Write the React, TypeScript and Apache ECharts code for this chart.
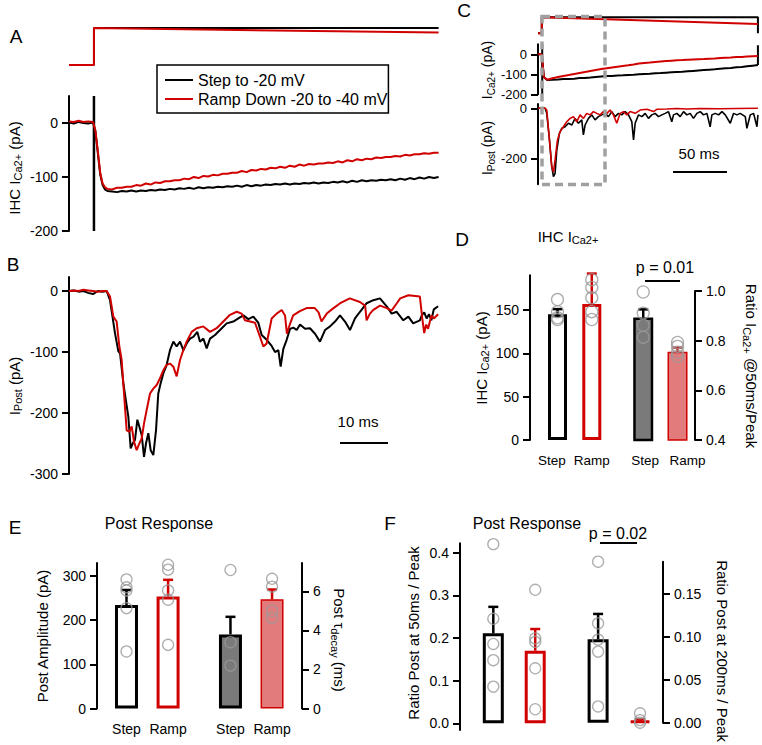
import React, { useEffect, useRef } from "react";
import * as echarts from "echarts";

const FONT = '"Liberation Sans", Arial, Helvetica, sans-serif';
const BLACK = "#000000";
const RED = "#d10000";
const GRAY_BAR = "#7a7a7a";
const PINK_BAR = "#e27c7c";
const CIRCLE = "#9a9a9a";
const BOX = "#a0a0a0";

// ---------- Panel A : IHC Ca current (pA) vs time (ms) ----------
const tA = [-5, -4, -3, -2, -1, 0, 0.5, 1, 1.5, 2, 2.5, 3,
  4, 5, 6, 7, 8, 9, 10, 11, 12, 13, 14, 15, 16, 17, 18, 19, 20, 21, 22, 23,
  24, 25, 26, 27, 28, 29, 30, 31, 32, 33, 34, 35, 36, 37, 38, 39, 40, 41, 42, 43,
  44, 45, 46, 47, 48, 49, 50, 51, 52, 53, 54, 55, 56, 57, 58, 59, 60, 61, 62, 63,
  64, 65, 66, 67, 68, 69, 70, 71, 72];
const stepCurrentA = [1, -1, 2, 0, -1, 1, -15, -55, -95, -115, -123, -126,
  -127, -128, -126, -127, -125, -127, -125, -126, -124, -125,
  -123, -124, -122, -123, -121, -122, -120, -122, -119, -121,
  -119, -120, -118, -119, -117, -118, -116, -118, -115, -117,
  -115, -116, -114, -115, -113, -114, -112, -114, -112, -113,
  -111, -112, -110, -112, -110, -111, -109, -110, -108, -110,
  -107, -109, -106, -108, -106, -107, -105, -106, -104, -106,
  -103, -105, -102, -104, -101, -103, -100, -102, -100];
const rampCurrentA = [3, 2, 4, 2, 3, 2, -14, -52, -92, -112, -119, -122,
  -123, -120, -120, -118, -118, -115, -116, -112, -114, -110,
  -111, -108, -108, -106, -106, -103, -104, -100, -102, -98,
  -99, -96, -97, -94, -94, -92, -92, -89, -91, -87,
  -88, -85, -86, -83, -84, -81, -83, -79, -81, -77,
  -79, -76, -77, -75, -75, -73, -74, -71, -73, -69,
  -71, -67, -69, -66, -67, -64, -65, -63, -63, -61,
  -62, -59, -60, -58, -58, -56, -57, -55, -55];
const artifactTimeA = [0.2, 0.2];
const artifactA = [50, -200];
// command voltage (mV)
const voltTimeA = [-5, 0.2, 0.2, 72];
const stepVoltA = [-80, -80, -20, -20];
const rampVoltA = [-80, -80, -20, -27.5];

// ---------- Panel B : postsynaptic current (pA) ----------
const tStepB = [-5, -4, -3, -2, -1, 0, 1, 2, 2.85,
  3.54, 4.58, 5.28, 5.63, 6.32, 6.88, 7.36, 7.85, 8.26, 8.75,
  9.24, 9.65, 10.14, 10.63, 11.04, 11.53, 12.01, 12.57, 13.13, 13.6,
  14.1, 14.65, 15.35, 16.04, 16.74, 17.43, 18.13, 18.82, 19.51, 20.21,
  20.9, 21.74, 22.29, 22.99, 23.68, 24.38, 25.42, 26.46, 27.85, 29.24,
  30.28, 31.32, 32.36, 33.4, 34.44, 35.14, 36.18, 37.22, 37.92, 38.61,
  39.1, 39.65, 40.35, 41.04, 41.74, 42.43, 43.13, 44.17, 45.21, 46.25,
  47.29, 48.33, 49.38, 50.42, 51.46, 52.5, 53.54, 54.58, 55.63, 57.01,
  58.4, 59.79, 61.18, 62.22, 63.26, 64.65, 65.7, 66.7, 68.1, 68.5,
  69, 69.5, 70, 70.5, 71, 71.9];
const stepPostB = [0, 1, -1, 0, -3, -5, 0, -1, 0,
  -15, -69, -99, -102, -151, -181, -206, -258, -250, -244,
  -211, -222, -236, -272, -250, -233, -261, -269, -228, -168,
  -151, -135, -121, -97, -83, -91, -83, -97, -86, -78,
  -75, -67, -83, -78, -94, -78, -72, -64, -53, -50,
  -45, -40, -46, -42, -52, -72, -80, -90, -100, -97,
  -124, -95, -80, -62, -60, -64, -55, -62, -61, -70,
  -83, -64, -58, -50, -40, -50, -64, -45, -34, -20,
  -15, -12, -25, -37, -34, -48, -42, -53, -48, -40,
  -35, -45, -38, -48, -30, -25];
const tRampB = [-5, -4, -3, -2, -1, 0, 1, 2, 2.85,
  3.54, 4.24, 4.93, 5.49, 5.97, 6.46, 7.01, 7.57, 8.06, 8.54,
  9.1, 9.65, 10.14, 10.63, 11.18, 11.88, 12.57, 13.27, 13.96, 14.65,
  15.35, 16.04, 16.74, 17.43, 18.13, 18.82, 19.51, 20.56, 21.6, 22.99,
  24.38, 25.76, 27.15, 28.54, 29.93, 30.97, 31.67, 32.71, 33.75, 34.79,
  35.49, 36.18, 37.22, 38.26, 39.31, 40, 40.4, 41, 41.7, 43.1,
  44.5, 46.2, 47, 47.6, 48.7, 50.1, 51.5, 53.5, 55.6, 56.7,
  57, 57.7, 58.4, 59.8, 61.2, 62.2, 63.3, 64, 65.7, 68.1,
  68.6, 69, 69.4, 69.8, 70.5, 71, 71.9];
const rampPostB = [0, 1, 0, 2, 1, 0, -1, 0, 0,
  -9, -42, -50, -91, -113, -168, -228, -231, -222, -247,
  -261, -250, -242, -217, -195, -168, -160, -154, -143, -130,
  -121, -119, -124, -140, -113, -97, -83, -67, -61, -58,
  -67, -61, -50, -39, -34, -37, -48, -50, -52, -75,
  -91, -86, -45, -37, -31, -40, -70, -55, -40, -33,
  -28, -28, -35, -50, -37, -28, -20, -12, -18, -24,
  -48, -37, -31, -24, -28, -32, -20, -12, -7, -9,
  -45, -69, -55, -62, -40, -45, -38];

// ---------- Panel C : whole 200 ms responses ----------
const voltTimeC = [-3.5, 0, 0, 200, 200];
const stepVoltC = [-80, -80, -20, -20, -80];
const rampVoltC = [-80, -80, -20, -45, -45];
const tCaC = [-3.5, 0, 1, 2, 5, 10, 15, 20, 25, 30, 35, 40, 45, 50, 55, 60, 65, 70, 75, 80, 85, 90, 95, 100,
  105, 110, 115, 120, 125, 130, 135, 140, 145, 150, 155, 160, 165, 170, 175, 180, 185, 190, 195, 200];
const stepCaC = [0, 0, -60, -115, -129, -127, -126, -124, -123, -122, -119, -118, -116, -113, -111, -109, -108, -106,
  -105, -103, -102, -100, -98, -97, -95, -94, -92, -90, -88, -87, -85, -83, -81, -79, -77, -75, -72, -70, -68, -65,
  -63, -60, -57, -54];
const rampCaC = [0, 0, -60, -115, -127, -120, -114, -108, -104, -99, -94, -89, -84, -79, -74, -70, -66, -62, -58,
  -55, -51, -46, -43, -41, -38, -36, -34, -32, -30, -29, -27, -26, -25, -24, -22, -21, -19, -17, -16, -14, -13,
  -11, -10, -9];
const tailTimeC = [200, 200];
const tailCaC = [-54, 45];
const artifactTimeC = [0.4, 0.4];
const artifactC = [50, -200];
const tStepPostC = [-3.5, 0, 3.1, 4.6, 7.1, 9.2, 10.8, 12.3, 13.9, 16.3, 18.5, 21.6, 24.7, 27.8, 30.8, 33.9, 37, 38.5,
  40.1, 43.2, 46.3, 49.3, 52.4, 55.5, 58.6, 61.7, 64.8, 67.9, 70.9, 74, 77.1, 80.2, 83.3, 84.9, 86.4, 89.5, 92.6,
  95.7, 98.7, 101.8, 104.9, 108, 111.1, 114.2, 117.2, 120.3, 121.9, 125, 128.1, 131.2, 134.2, 137.3, 140.4, 143.5,
  146.6, 149.7, 152.8, 155.8, 157.4, 160.5, 163.6, 166.7, 169.8, 174.4, 177.5, 180.6, 183.6, 188.3, 189.8, 192.9,
  196, 199.1, 200];
const stepPostC = [0, 0, 0, -20, -125, -230, -270, -257, -165, -99, -79, -73, -59, -66, -40, -59, -46, -105,
  -66, -40, -26, -46, -33, -26, -20, -33, -13, -33, -20, -26, -13, -26, -53, -125, -59, -26, -33,
  -20, -40, -26, -20, -33, -26, -20, -13, -53, -26, -20, -33, -13, -26, -20, -40, -20,
  -13, -26, -20, -73, -26, -20, -26, -13, -26, -59, -20, -26, -20, -33, -79, -26,
  -20, -73, -26];
const tRampPostC = [-3.5, 0, 3.1, 4.6, 7.1, 9.2, 10.8, 12.3, 14.5, 17, 20, 23.1, 26.2, 29.3, 32.4, 35.5, 38.5,
  41.6, 44.7, 47.8, 50.9, 54, 57, 60.2, 63.2, 66.3, 69.4, 72.5, 75.6, 78.7, 81.8, 86.4, 91, 97.2, 103.4, 106.4,
  115.7, 125, 134.2, 146.6, 165.1, 180.6, 200];
const rampPostC = [0, 0, 0, -7, -125, -230, -252, -204, -125, -92, -73, -53, -40, -33, -53, -26, -40,
  -20, -26, -13, -20, -26, -13, -20, -7, -26, -59, -20, -13, -26, -13, -20, -7, -4, -13, -4,
  -3, -1, -3, -1, -2, -1, 0];

// ---------- Bar panels ----------
const barCategories = ["Step", "Ramp", "Step", "Ramp"];
const barSlots = [1, 3, 6, 8];

// D : IHC ICa2+ amplitude (pA) and ratio @50 ms / peak
const dAmpMean = [145, 157];
const dAmpErr = [151, 192];
const dAmpStepPts = [162, 148, 141, 139];
const dAmpRampPts = [185, 176, 164, 148, 139];
const dRatioMean = [0.893, 0.755];
const dRatioErr = [0.926, 0.772];
const dRatioStepPts = [0.996, 0.911, 0.862, 0.814];
const dRatioRampPts = [0.793, 0.777, 0.753, 0.737];

// E : post amplitude (pA) and decay tau (ms)
const eAmpMean = [234, 253];
const eAmpErr = [268, 291];
const eAmpStepPts = [292, 274, 267, 227, 129];
const eAmpRampPts = [325, 314, 267, 246, 144];
const eTauMean = [3.8, 5.6];
const eTauErr = [4.7, 6.1];
const eTauStepPts = [7.1, 3.4, 2.2];
const eTauRampPts = [6.65, 6.25, 5.0, 4.65];

// F : post ratios at 50 ms and 200 ms
const fR50Mean = [0.211, 0.17];
const fR50Err = [0.273, 0.221];
const fR50StepPts = [0.42, 0.245, 0.186, 0.148, 0.086];
const fR50RampPts = [0.313, 0.199, 0.191, 0.129, 0.033];
const fR200Mean = [0.0975, 0.0025];
const fR200Err = [0.127, 0.004];
const fR200StepPts = [0.188, 0.116, 0.097, 0.083, 0.019];
const fR200RampPts = [0.011, 0.003, 0.0];

// tick values
const ticksA = [-200, -100, 0];
const ticksB = [-300, -200, -100, 0];
const ticksCCa = [-200, -100, 0];
const ticksCPost = [-200, 0];
const ticksDL = [0, 50, 100, 150];
const ticksDR = [0.4, 0.6, 0.8, 1.0];
const ticksEL = [0, 100, 200, 300];
const ticksER = [0, 2, 4, 6];
const ticksFL = [0, 0.1, 0.2, 0.3, 0.4];
const ticksFR = [0, 0.05, 0.1, 0.15];

const zip = (t: number[], v: number[]) => t.map((x, i) => [x, v[i]]);

function buildOption() {
  const grids: any[] = [];
  const xAxes: any[] = [];
  const yAxes: any[] = [];
  const series: any[] = [];

  const addGrid = (box: number[], xr: number[], yr: number[], yOpt: any = null, xOpt: any = null) => {
    const idx = grids.length;
    grids.push({ left: box[0], top: box[1], width: box[2], height: box[3], containLabel: false, outerBoundsMode: "none", show: false });
    xAxes.push({
      type: "value", gridIndex: idx, min: xr[0], max: xr[1],
      show: !!xOpt,
      axisLine: { show: false, onZero: false },
      axisTick: { show: false },
      splitLine: { show: false },
      axisLabel: xOpt
        ? { show: true, customValues: barSlots, margin: 13, color: "#000", fontSize: xOpt.size || 14, fontFamily: FONT,
            hideOverlap: false,
            formatter: (v: number) => {
              const i = barSlots.indexOf(v);
              return i < 0 ? "" : `{${xOpt.styles[i]}|${barCategories[i]}}`;
            },
            rich: xOpt.rich }
        : { show: false },
    });
    if (yOpt) {
      yAxes.push({
        type: "value", gridIndex: idx, min: yr[0], max: yr[1], position: yOpt.pos || "left",
        show: true,
        axisLine: { show: true, onZero: false, lineStyle: { color: "#000", width: 2 } },
        axisTick: { show: true, length: 7, customValues: yOpt.ticks, lineStyle: { color: "#000", width: 2 } },
        axisLabel: { show: true, customValues: yOpt.ticks, margin: 11, color: "#000", fontSize: yOpt.size || 14, fontFamily: FONT,
          formatter: yOpt.fmt || ((v: number) => String(v)) },
        splitLine: { show: false },
      });
    } else {
      yAxes.push({ type: "value", gridIndex: idx, min: yr[0], max: yr[1], show: false,
        axisLine: { onZero: false }, splitLine: { show: false } });
    }
    return idx;
  };

  const line = (g: number, name: string, data: number[][], color: string, width: number, z = 2) => ({
    type: "line", name, xAxisIndex: g, yAxisIndex: g, data, symbol: "none", showSymbol: false,
    lineStyle: { color, width }, itemStyle: { color }, silent: true, z, animation: false,
  });

  // Panel A
  const gAV = addGrid([69, 24.9, 369.6, 43.2], [-5, 72], [-85, -15]);
  series.push(line(gAV, "vStepA", zip(voltTimeA, stepVoltA), BLACK, 2));
  series.push(line(gAV, "vRampA", zip(voltTimeA, rampVoltA), RED, 2));
  const gAI = addGrid([69, 96, 369.6, 135], [-5, 72], [-200, 50], { ticks: ticksA });
  series.push(line(gAI, "artA", zip(artifactTimeA, artifactA), BLACK, 2.5));
  series.push(line(gAI, "Step to -20 mV", zip(tA, stepCurrentA), BLACK, 2));
  series.push(line(gAI, "Ramp Down -20 to -40 mV", zip(tA, rampCurrentA), RED, 2));

  // Panel B
  const gB = addGrid([69, 277, 369.6, 197], [-5, 72], [-300, 23], { ticks: ticksB });
  series.push(line(gB, "stepB", zip(tStepB, stepPostB), BLACK, 2));
  series.push(line(gB, "rampB", zip(tRampB, rampPostB), RED, 2));

  // Panel C
  const gCV = addGrid([538, 16, 221, 18.7], [-3.5, 201], [-85, -15]);
  series.push(line(gCV, "vStepC", zip(voltTimeC, stepVoltC), BLACK, 2));
  series.push(line(gCV, "vRampC", zip(voltTimeC, rampVoltC), RED, 2));
  const gCCa = addGrid([538, 44.3, 221, 50], [-3.5, 201], [-200, 50], { ticks: ticksCCa, size: 13 });
  series.push(line(gCCa, "artC", zip(artifactTimeC, artifactC), BLACK, 2));
  series.push(line(gCCa, "stepCaC", zip(tCaC, stepCaC), BLACK, 2));
  series.push(line(gCCa, "tailC", zip(tailTimeC, tailCaC), BLACK, 2));
  series.push(line(gCCa, "rampCaC", zip(tCaC, rampCaC), RED, 2));
  const gCP = addGrid([538, 104, 221, 80.2], [-3.5, 201], [-300, 17], { ticks: ticksCPost, size: 13 });
  series.push(line(gCP, "stepPostC", zip(tStepPostC, stepPostC), BLACK, 1.6));
  series.push(line(gCP, "rampPostC", zip(tRampPostC, rampPostC), RED, 1.6));

  // bar helpers
  const outlineBlack = { color: "#ffffff", borderColor: BLACK, borderWidth: 3 };
  const outlineRed = { color: "#ffffff", borderColor: RED, borderWidth: 3 };
  const grayFill = { color: GRAY_BAR, borderColor: BLACK, borderWidth: 2.5 };
  const pinkFill = { color: PINK_BAR, borderColor: RED, borderWidth: 1.5 };
  const redFlat = { color: RED, borderColor: RED, borderWidth: 3 };

  const barGroup = (g: number, slots: number[], means: number[], errs: number[], pts: number[][],
    styles: any[], errColors: string[], barWidth: number, circleSize: number) => {
    series.push({
      type: "bar", xAxisIndex: g, yAxisIndex: g, barWidth, silent: true, z: 2,
      data: means.map((m, i) => ({ value: [slots[i], m], itemStyle: styles[i] })),
    });
    series.push({
      type: "custom", xAxisIndex: g, yAxisIndex: g, silent: true, z: 3,
      data: means.map((m, i) => [slots[i], m, errs[i]]),
      renderItem: (params: any, api: any) => {
        const x = api.value(0), m = api.value(1), e = api.value(2);
        const p0 = api.coord([x, m]);
        const p1 = api.coord([x, e]);
        const c = errColors[params.dataIndex];
        return {
          type: "group",
          children: [
            { type: "line", shape: { x1: p0[0], y1: p0[1], x2: p1[0], y2: p1[1] }, style: { stroke: c, lineWidth: 2.5 } },
            { type: "line", shape: { x1: p1[0] - 5, y1: p1[1], x2: p1[0] + 5, y2: p1[1] }, style: { stroke: c, lineWidth: 2.5 } },
          ],
        };
      },
    });
    const scatterData: number[][] = [];
    pts.forEach((arr, i) => arr.forEach((v) => scatterData.push([slots[i], v])));
    series.push({
      type: "scatter", xAxisIndex: g, yAxisIndex: g, silent: true, z: 4,
      symbol: "circle", symbolSize: circleSize, data: scatterData,
      itemStyle: { color: "rgba(0,0,0,0)", borderColor: CIRCLE, borderWidth: 1.3 },
    });
  };

  const labelRich = (size: number) => ({
    c: { fontSize: size, fontFamily: FONT, color: "#000" },
    l: { fontSize: size, fontFamily: FONT, color: "#000", padding: [0, 11, 0, 0] },
    r: { fontSize: size, fontFamily: FONT, color: "#000", padding: [0, 0, 0, 4] },
    rr: { fontSize: size, fontFamily: FONT, color: "#000", padding: [0, 0, 0, 20] },
  });

  // Panel D
  const dX = [-0.604, 9.02];
  const gDL = addGrid([530, 275.3, 165, 164.7], dX, [0, 190], { ticks: ticksDL },
    { size: 13.5, styles: ["l", "c", "r", "rr"], rich: labelRich(13.5) });
  barGroup(gDL, barSlots.slice(0, 2), dAmpMean, dAmpErr, [dAmpStepPts, dAmpRampPts],
    [outlineBlack, outlineRed], [BLACK, RED], 19, 12);
  const gDR = addGrid([530, 291, 165, 149], dX, [0.4, 1.0],
    { ticks: ticksDR, pos: "right", fmt: (v: number) => v.toFixed(1) });
  barGroup(gDR, barSlots.slice(2), dRatioMean, dRatioErr, [dRatioStepPts, dRatioRampPts],
    [grayFill, pinkFill], [BLACK, RED], 20, 12);

  // Panel E
  const eX = [-0.418, 9.44];
  const gEL = addGrid([97, 563, 205, 145.5], eX, [0, 329], { ticks: ticksEL },
    { size: 14, styles: ["c", "c", "c", "c"], rich: labelRich(14) });
  barGroup(gEL, barSlots.slice(0, 2), eAmpMean, eAmpErr, [eAmpStepPts, eAmpRampPts],
    [outlineBlack, outlineRed], [BLACK, RED], 23, 11);
  const gER = addGrid([97, 563, 205, 145.5], eX, [0, 7.46], { ticks: ticksER, pos: "right" });
  barGroup(gER, barSlots.slice(2), eTauMean, eTauErr, [eTauStepPts, eTauRampPts],
    [{ ...grayFill, borderWidth: 3 }, pinkFill], [BLACK, RED], 23, 11);

  // Panel F
  const fX = [-0.589, 9.096];
  const gFL = addGrid([460, 543.3, 203, 186.7], fX, [-0.0157, 0.422],
    { ticks: ticksFL, fmt: (v: number) => v.toFixed(1) });
  barGroup(gFL, barSlots.slice(0, 2), fR50Mean, fR50Err, [fR50StepPts, fR50RampPts],
    [outlineBlack, outlineRed], [BLACK, RED], 21, 11);
  const gFR = addGrid([460, 561.7, 203, 161], fX, [0, 0.188],
    { ticks: ticksFR, pos: "right", fmt: (v: number) => v.toFixed(2) });
  barGroup(gFR, barSlots.slice(2), fR200Mean, fR200Err, [fR200StepPts, fR200RampPts],
    [outlineBlack, redFlat], [BLACK, RED], 21, 11);

  // texts
  const rich = (size: number) => ({
    b: { fontSize: size, fontFamily: FONT, fill: "#000", lineHeight: size + 4 },
    s: { fontSize: Math.round(size * 0.72), fontFamily: FONT, fill: "#000", lineHeight: Math.round(size * 0.55), verticalAlign: "bottom" },
  });
  const label = (x: number, y: number, text: string, size: number, rot = 0) => ({
    type: "text", x, y, rotation: rot, silent: true, z: 20,
    style: {
      text, rich: rich(size), fill: "#000", font: `${size}px ${FONT}`,
      align: "center", verticalAlign: "middle", textAlign: "center", textVerticalAlign: "middle",
    },
  });
  const seg = (x1: number, y1: number, x2: number, y2: number, w = 2) => ({
    type: "line", silent: true, z: 20, shape: { x1, y1, x2, y2 }, style: { stroke: "#000", lineWidth: w },
  });
  const UP = Math.PI / 2;
  const DOWN = -Math.PI / 2;

  const elements: any[] = [
    label(16, 36, "{b|A}", 19),
    label(13, 264, "{b|B}", 19),
    label(464, 10, "{b|C}", 19),
    label(462, 239, "{b|D}", 19),
    label(15, 527, "{b|E}", 19),
    label(390, 523, "{b|F}", 19),
    label(14, 168, "{b|IHC I}{s|Ca2+}{b| (pA)}", 15, UP),
    label(14, 386, "{b|I}{s|Post}{b| (pA)}", 15, UP),
    label(487, 70, "{b|I}{s|Ca2+}{b| (pA)}", 14, UP),
    label(487, 148, "{b|I}{s|Post}{b| (pA)}", 14, UP),
    label(481, 358, "{b|IHC I}{s|Ca2+}{b| (pA)}", 15, UP),
    label(751, 366, "{b|Ratio I}{s|Ca2+}{b| @50ms/Peak}", 15, DOWN),
    label(568, 236, "{b|IHC I}{s|Ca2+}", 15),
    label(42, 636, "{b|Post Amplitude (pA)}", 15, UP),
    label(339, 640, "{b|Post τ}{s|decay}{b| (ms)}", 15, DOWN),
    label(159, 523, "{b|Post Response}", 16),
    label(413, 633, "{b|Ratio Post at 50ms / Peak}", 15, UP),
    label(722, 651, "{b|Ratio Post at 200ms / Peak}", 15, DOWN),
    label(527, 523, "{b|Post Response}", 16),
    label(665, 267, "{b|p = 0.01}", 16),
    seg(645, 281, 680, 281),
    label(618, 533, "{b|p = 0.02}", 16),
    seg(600, 543, 637, 543),
    label(358, 421, "{b|10 ms}", 15),
    seg(340, 443, 388, 443),
    label(699, 153, "{b|50 ms}", 15),
    seg(673, 172, 727, 172),
    {
      type: "rect", silent: true, z: 15,
      shape: { x: 542, y: 16.5, width: 63, height: 168 },
      style: { fill: "none", stroke: BOX, lineWidth: 3.5, lineDash: [8, 5] },
    },
  ];

  return {
    animation: false,
    backgroundColor: "#ffffff",
    textStyle: { fontFamily: FONT },
    grid: grids,
    xAxis: xAxes,
    yAxis: yAxes,
    legend: {
      show: true,
      data: ["Step to -20 mV", "Ramp Down -20 to -40 mV"],
      orient: "vertical",
      left: 157,
      top: 65,
      padding: [7, 1, 6, 8],
      itemGap: 3,
      itemWidth: 28,
      itemHeight: 2,
      icon: "rect",
      selectedMode: false,
      borderColor: "#000",
      borderWidth: 1.5,
      backgroundColor: "#ffffff",
      textStyle: { color: "#000", fontSize: 16, fontFamily: FONT, lineHeight: 16 },
    },
    series,
    graphic: { elements },
  };
}

export default function App() {
  const ref = useRef<HTMLDivElement>(null);
  useEffect(() => {
    document.body.style.margin = "0";
    const chart = echarts.init(ref.current as HTMLDivElement, null, { renderer: "svg" });
    chart.setOption(buildOption() as any);
    return () => chart.dispose();
  }, []);
  return <div ref={ref} style={{ width: 762, height: 745 }} />;
}
